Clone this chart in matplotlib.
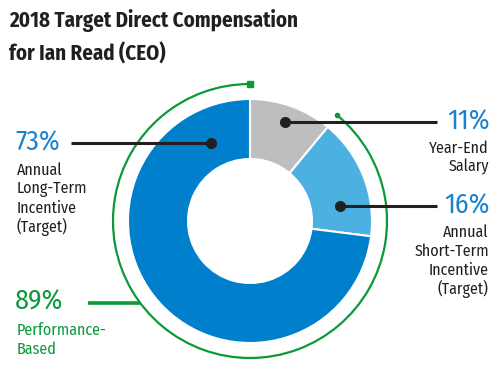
import matplotlib
matplotlib.use("Agg")
import matplotlib.pyplot as plt
from matplotlib.patches import Arc
import numpy as np

# ---- data ----
categories = ["Year-End Salary", "Annual Short-Term Incentive (Target)", "Annual Long-Term Incentive (Target)"]
values = [11, 16, 73]
colors = ["#BDBEC0", "#4CB1E1", "#0080CC"]
perf_based = 89
title_lines = ["2018 Target Direct Compensation", "for Ian Read (CEO)"]

W, H = 502, 382
fig = plt.figure(figsize=(W / 100, H / 100), dpi=100)
ax = fig.add_axes([0, 0, 1, 1])

cx, cy = 250, H - 221
R, ring = 122, 60

ax.pie(values, colors=colors, startangle=90, counterclock=False, radius=R,
       center=(cx, cy), wedgeprops=dict(width=ring, edgecolor="white", linewidth=1.5))
ax.set_xlim(0, W)
ax.set_ylim(0, H)
ax.set_aspect("equal")
ax.axis("off")

# green arc for performance-based share
green = "#0A9A3A"
Rg = 137
end_ang = 90 + 360 * perf_based / 100
ax.add_patch(Arc((cx, cy), 2 * Rg, 2 * Rg, theta1=90, theta2=end_ang, color=green, lw=1.6))
ax.plot([cx], [cy + Rg], marker="s", ms=4, color=green)
ea = np.deg2rad(end_ang)
ax.plot([cx + Rg * np.cos(ea)], [cy + Rg * np.sin(ea)], marker="o", ms=3, color=green)

narrow = ["Fira Sans Condensed", "Roboto Condensed", "DejaVu Sans"]
dark = "#231F20"
blue = "#1A82D0"

def px(y):
    return H - y

def leader(x0, x1, y):
    ax.plot([x0, x1], [px(y), px(y)], color=dark, lw=2.2, solid_capstyle="butt")
    ax.plot([x1], [px(y)], marker="o", ms=7, color=dark)

leader(71, 211, 143)     # long-term
leader(437, 285, 122)    # salary
leader(437, 340, 206)    # short-term

yg = 303
dyg = cy - px(yg)
xg = cx - np.sqrt(Rg**2 - dyg**2)
ax.plot([88, xg], [px(yg), px(yg)], color=green, lw=2.6, solid_capstyle="butt")

kw_big = dict(fontsize=20, family=narrow, fontweight="normal", va="center")
kw_small = dict(fontsize=11.5, family=narrow, fontweight="normal", va="center")

ax.text(15, px(143), f"{values[2]}%", color=blue, ha="left", **kw_big)
for i, t in enumerate(["Annual", "Long-Term", "Incentive", "(Target)"]):
    ax.text(17, px(170 + 19 * i), t, color=dark, ha="left", **kw_small)

ax.text(15, px(302), f"{perf_based}%", color=green, ha="left", **kw_big)
for i, t in enumerate(["Performance-", "Based"]):
    ax.text(17, px(330 + 19 * i), t, color=green, ha="left", **kw_small)

ax.text(490, px(122), f"{values[0]}%", color=blue, ha="right", **kw_big)
for i, t in enumerate(["Year-End", "Salary"]):
    ax.text(489, px(148 + 19 * i), t, color=dark, ha="right", **kw_small)

ax.text(490, px(206), f"{values[1]}%", color=blue, ha="right", **kw_big)
for i, t in enumerate(["Annual", "Short-Term", "Incentive", "(Target)"]):
    ax.text(489, px(232 + 19 * i), t, color=dark, ha="right", **kw_small)

for i, t in enumerate(title_lines):
    ax.text(9, px(21 + 33 * i), t, color=dark, fontsize=15, fontweight="bold",
            family=["Fira Sans Condensed", "Open Sans", "DejaVu Sans"], va="center", ha="left")

fig.savefig("out.png", dpi=100)
